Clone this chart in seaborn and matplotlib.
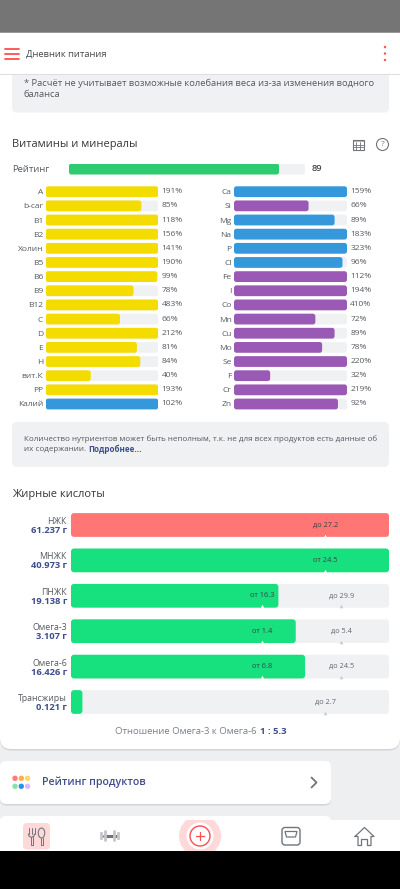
import numpy as np
import pandas as pd
import seaborn as sns
from matplotlib import pyplot as plt
from matplotlib.patches import Circle, Ellipse, FancyBboxPatch, Polygon, Rectangle

# === Data ===
rating = 89

left_names = ["A", "b-car", "B1", "B2", "Холин", "B5", "B6", "B9", "B12", "C", "D", "E", "H", "вит.К", "PP", "Калий"]
left_pct = [191, 85, 118, 156, 141, 190, 99, 78, 483, 66, 212, 81, 84, 40, 193, 102]
left_kind = ["vit"] * 15 + ["macro"]

right_names = ["Ca", "Si", "Mg", "Na", "P", "Cl", "Fe", "I", "Co", "Mn", "Cu", "Mo", "Se", "F", "Cr", "Zn"]
right_pct = [159, 66, 89, 183, 323, 96, 112, 194, 410, 72, 89, 78, 220, 32, 219, 92]
right_kind = ["macro", "micro", "macro", "macro", "macro", "macro"] + ["micro"] * 10

fat_names = ["НЖК", "МНЖК", "ПНЖК", "Омега-3", "Омега-6", "Трансжиры"]
fat_grams = [61.237, 40.973, 19.138, 3.107, 16.426, 0.121]
fat_low = [None, 24.5, 16.3, 1.4, 6.8, None]
fat_high = [27.2, None, 29.9, 5.4, 24.5, 2.7]

# === Colours ===
TRACK = "#f0f1f3"
PAGE = "#eeeff1"
RED = "#ff4d50"
NAVY = "#3f4e8c"
TEXT = "#555a60"
DARK = "#33363a"
ICON = "#70757c"
KIND_COLORS = {"vit": "#f5dc00", "macro": "#3498db", "micro": "#9b59b6",
               "rate": "#2ecc71", "ok": "#17e07f", "over": "#ff7675"}

W, H = 400, 889
sns.set_theme(style="white")
plt.rcParams["font.family"] = ["Open Sans", "DejaVu Sans"]


def px(size):
    """размер шрифта: пиксели -> пункты"""
    return size * 0.72


fig = plt.figure(figsize=(W / 100, H / 100), dpi=100, facecolor=PAGE)
bg = fig.add_axes([0, 0, 1, 1])
bg.set_xlim(0, W)
bg.set_ylim(H, 0)
bg.axis("off")


def panel(x0, y0, x1, y1):
    ax = fig.add_axes([x0 / W, 1 - y1 / H, (x1 - x0) / W, (y1 - y0) / H])
    ax.patch.set_alpha(0)
    return ax


def box(x0, y0, x1, y1, color, r=5, zorder=1, ax=bg):
    ax.add_patch(FancyBboxPatch((x0, y0), x1 - x0, y1 - y0, boxstyle=f"round,pad=0,rounding_size={r}",
                                fc=color, ec="none", zorder=zorder))


def label(x, y, s, size=9, color=TEXT, weight="normal", ha="left"):
    bg.text(x, y, s, fontsize=px(size), color=color, fontweight=weight, ha=ha, va="center", zorder=20)


def round_bars(ax, radius):
    """заменяет прямоугольники seaborn на скруглённые"""
    bbox = ax.get_window_extent()
    xu = abs(np.diff(ax.get_xlim())[0]) / bbox.width
    yu = abs(np.diff(ax.get_ylim())[0]) / bbox.height
    for bar in list(ax.patches):
        x, y, w, h = bar.get_x(), bar.get_y(), bar.get_width(), bar.get_height()
        color, z = bar.get_facecolor(), bar.get_zorder()
        bar.remove()
        if w <= 0:
            continue
        r = min(radius * xu, w / 2)
        ax.add_patch(FancyBboxPatch((x, y), w, h, boxstyle=f"round,pad=0,rounding_size={r}",
                                    mutation_aspect=yu / xu, fc=color, ec="none", zorder=z))


def bar_panel(ax, names, fills, kinds, radius=2.5, width=0.76):
    """серая дорожка и заполненная часть через seaborn"""
    df = pd.DataFrame({"name": names, "fill": fills, "kind": kinds, "track": 100})
    sns.barplot(df, x="track", y="name", color=TRACK, width=width, saturation=1, ax=ax)
    sns.barplot(df, x="fill", y="name", hue="kind", palette=KIND_COLORS, dodge=False, width=width,
                saturation=1, legend=False, ax=ax)
    ax.set_xlim(0, 100)
    ax.set_ylim(len(names) - 0.5, -0.5)
    ax.set_xlabel("")
    ax.set_ylabel("")
    ax.set_xticks([])
    ax.tick_params(axis="y", length=0, pad=1.8, labelsize=px(8.4), labelcolor=TEXT)
    sns.despine(ax=ax, left=True, bottom=True)
    round_bars(ax, radius)


def fat_position(value, low, high):
    """положение на шкале: нижняя граница 60 %, верхняя 85 %, одна граница 80 %"""
    if low is not None and high is not None:
        xp, fp = [0, low, high], [0, 60, 85]
    elif low is not None:
        xp, fp = [0, low], [0, 80]
    else:
        xp, fp = [0, high], [0, 80]
    if value > xp[-1]:
        return 100
    return float(np.interp(value, xp, fp))


# === Page background ===
bg.add_patch(Rectangle((0, 0), W, 33, fc="#757575", ec="none", zorder=1))
box(0, 62, W, 750.5, "#d4d5d8", r=11, zorder=1)
box(0, 60, W, 749, "white", r=11, zorder=2)
bg.add_patch(Rectangle((0, 33), W, 41, fc="white", ec="none", zorder=6))
bg.add_patch(Rectangle((0, 74), W, 1.2, fc="#dcdde0", ec="none", zorder=6))
bg.add_patch(Rectangle((0, 32.4), W, 1, fc="#9a9a9a", ec="none", zorder=6))
box(12, 60, 389, 112.6, TRACK, zorder=3)
box(12, 422, 389, 467, TRACK, zorder=3)

# header
for y in (48.5, 53.5, 58.5):
    bg.plot([5, 19], [y, y], color=RED, lw=1.3, solid_capstyle="round", zorder=8)
for y in (47, 53.5, 60):
    bg.add_patch(Circle((385, y), 1.2, fc=RED, ec="none", zorder=8))
label(26, 54, "Дневник питания", size=9.4, color="#44474c", weight="medium")

label(24, 83, "* Расчёт не учитывает возможные колебания веса из-за изменения водного", size=9.4)
label(24, 94.5, "баланса", size=9.4)

label(12, 144.5, "Витамины и минералы", size=11, color=DARK, weight="medium")
label(12, 169, "Рейтинг", size=9.4, color=TEXT, weight="medium")
label(312, 168.5, str(rating), size=9.3, color="#44474c", weight="semibold")

# table and help icons
bg.add_patch(Rectangle((352.5, 139.5), 11.5, 10, fc="none", ec=ICON, lw=0.8, zorder=8))
bg.add_patch(Rectangle((352.5, 139.5), 11.5, 2.4, fc=ICON, ec="none", alpha=0.5, zorder=8))
for x in (356.3, 360.2):
    bg.plot([x, x], [142, 149.5], color=ICON, lw=0.6, zorder=8)
for y in (144.5, 147):
    bg.plot([352.5, 364], [y, y], color=ICON, lw=0.6, zorder=8)
bg.add_patch(Circle((382.5, 144.5), 6, fc="none", ec=ICON, lw=0.8, zorder=8))
label(382.5, 144.5, "?", size=8.5, color=ICON, ha="center")

# === Rating ===
ax_rate = panel(69, 163.5, 305, 174.5)
bar_panel(ax_rate, ["Рейтинг"], [rating], ["rate"], radius=2.5, width=1.0)
ax_rate.set_yticks([])

# === Vitamins and minerals ===
ROW = 14.15
top, bottom = 191.7 - ROW / 2, 404 + ROW / 2
for x0, x1, names, pct, kinds in ((45.7, 158.3, left_names, left_pct, left_kind),
                                  (234, 347, right_names, right_pct, right_kind)):
    ax = panel(x0, top, x1, bottom)
    bar_panel(ax, names, [min(p, 100) for p in pct], kinds)
    for i, p in enumerate(pct):
        ax.annotate(f"{p}%", xy=(100, i), xytext=(px(3.2), 0), textcoords="offset points", va="center",
                    fontsize=px(8.4), color=TEXT)

# === Notes ===
label(24, 439, "Количество нутриентов может быть неполным, т.к. не для всех продуктов есть данные об", size=8.0)
label(24, 449.5, "их содержании.", size=8.0)
label(88, 449.5, "Подробнее...", size=8.0, color=NAVY, weight="bold")

# === Fatty acids ===
label(12, 494.5, "Жирные кислоты", size=11, color=DARK, weight="medium")

fat_fill = [fat_position(v, lo, hi) for v, lo, hi in zip(fat_grams, fat_low, fat_high)]
fat_kind = ["over" if hi is not None and v > hi else "ok" for v, hi in zip(fat_grams, fat_high)]

ROW_FAT = 35.4
ax_fat = panel(71, 525 - ROW_FAT / 2, 389, 702 + ROW_FAT / 2)
bar_panel(ax_fat, fat_names, fat_fill, fat_kind, radius=3, width=0.67)
ax_fat.set_yticks([])

for i, (name, grams, lo, hi, fill) in enumerate(zip(fat_names, fat_grams, fat_low, fat_high, fat_fill)):
    ax_fat.annotate(name, xy=(0, i), xycoords=("axes fraction", "data"), xytext=(px(-4), px(3.5)),
                    textcoords="offset points", ha="right", va="center", fontsize=px(8.8), color=TEXT)
    ax_fat.annotate(f"{grams:.3f} г", xy=(0, i), xycoords=("axes fraction", "data"), xytext=(px(-4), px(-5.5)),
                    textcoords="offset points", ha="right", va="center", fontsize=px(9.4), color=NAVY,
                    fontweight="bold")
    marks = []
    if lo is not None:
        marks.append(("от", lo, 60 if hi is not None else 80))
    if hi is not None:
        marks.append(("до", hi, 85 if lo is not None else 80))
    for word, limit, pos in marks:
        on_bar = pos < fill
        ax_fat.annotate(f"{word} {limit:g}", xy=(pos, i), ha="center", va="center", fontsize=px(7.4),
                        color="#3c4045" if on_bar else "#62666c", zorder=6)
        ax_fat.plot(pos, i + 0.30, marker="^", ms=2.6, mew=0, color="white" if on_bar else "#c9cbce", zorder=6)

label(115, 731.7, "Отношение Омега-3 к Омега-6", size=9.45, color="#7a7f88")
label(260, 731.7, "1 : 5.3", size=9.5, color=NAVY, weight="bold")

# === Product rating card ===
box(0, 763, 331, 805.5, "#d4d5d8", r=6, zorder=2)
box(0, 761, 331, 804, "white", r=6, zorder=3)
box(0, 816, 331, 840, "white", r=6, zorder=3)
for x, y, c in ((15, 778.3, "#ff7b7b"), (21.3, 778.3, "#ffae4d"), (27.6, 778.3, "#ffd966"),
                (15, 786.3, "#84e3ad"), (21.3, 786.3, "#2e8fe6"), (27.6, 786.3, "#dcb8ff")):
    bg.add_patch(Circle((x, y), 2.7, fc=c, ec="none", zorder=5))
label(42.5, 782.5, "Рейтинг продуктов", size=10.6, color=NAVY, weight="semibold")
bg.plot([311.5, 316.5, 311.5], [777.5, 782.5, 787.5], color=ICON, lw=1.3, zorder=5)

# === Bottom navigation ===
bg.add_patch(Rectangle((0, 820), W, 31, fc="white", ec="none", zorder=6))
bg.add_patch(Rectangle((0, 819.5), W, 0.8, fc="#e4e5e7", ec="none", zorder=6))
box(23, 823, 50, 849.5, "#ffd9d9", r=4, zorder=7)
for x in (28.5, 31.5, 34.5):
    bg.plot([x, x], [828, 834], color=ICON, lw=0.7, zorder=8)
bg.plot([28.5, 29, 31.5, 34, 34.5], [834, 836, 837.5, 836, 834], color=ICON, lw=0.8, zorder=8)
bg.plot([30.5, 30.5, 32.5, 32.5], [837, 845, 845, 837], color=ICON, lw=0.7, zorder=8)
bg.add_patch(Ellipse((41.5, 833), 6.5, 10, fc="none", ec=ICON, lw=0.8, zorder=8))
bg.plot([40.5, 40.5, 42.5, 42.5], [838, 845, 845, 838], color=ICON, lw=0.7, zorder=8)

bg.plot([104, 116], [836, 836], color=ICON, lw=2.2, zorder=8)
for x, h in ((101.5, 8), (105.5, 11.5), (114.5, 11.5), (118.5, 8)):
    box(x - 1.4, 836 - h / 2, x + 1.4, 836 + h / 2, "#c4c6ca", r=1, zorder=9)

halo = Circle((200, 836), 21, fc="#ffd9d9", ec="none", zorder=7)
bg.add_patch(halo)
halo.set_clip_path(Rectangle((0, 820), W, 31, transform=bg.transData))
bg.add_patch(Circle((200, 836), 13.5, fc="white", ec="none", zorder=8))
bg.add_patch(Circle((200, 836), 10, fc="none", ec=RED, lw=1, zorder=9))
bg.plot([196, 204], [836, 836], color=RED, lw=0.9, zorder=9)
bg.plot([200, 200], [832, 840], color=RED, lw=0.9, zorder=9)

bg.add_patch(FancyBboxPatch((282, 827.5), 18, 17.5, boxstyle="round,pad=0,rounding_size=3", fc="none",
                            ec=ICON, lw=1, zorder=8))
bg.add_patch(Polygon([(285, 831.5), (297, 831.5), (295.5, 837), (286.5, 837)], closed=True, fc="none",
                     ec=ICON, lw=0.9, zorder=8))

bg.plot([355, 364.5, 374, 371, 371, 367.5, 367.5, 361.5, 361.5, 358, 358, 355],
        [836.5, 827.5, 836.5, 836.5, 845.5, 845.5, 839.5, 839.5, 845.5, 845.5, 836.5, 836.5],
        color=ICON, lw=0.9, zorder=8)

bg.add_patch(Rectangle((0, 851), W, 38, fc="black", ec="none", zorder=10))

fig.savefig("out.png", dpi=100, facecolor=fig.get_facecolor())
